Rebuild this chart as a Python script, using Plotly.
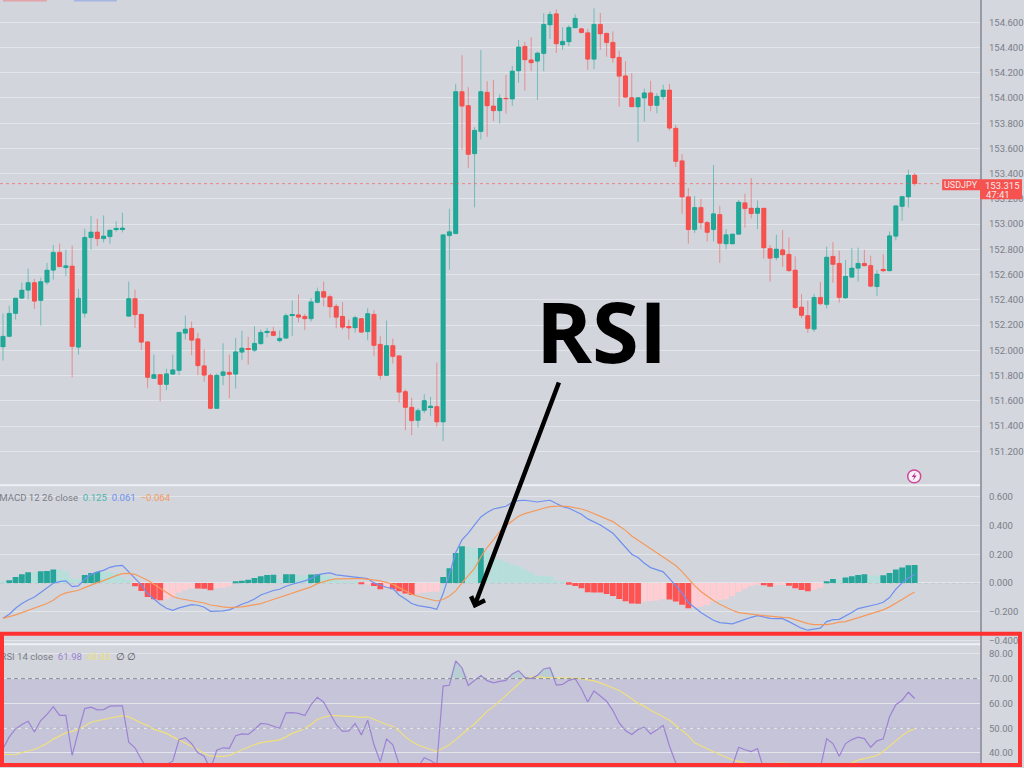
import plotly.graph_objects as go

# Candles
opens = [
    152.017, 152.099, 152.282, 152.403, 152.467, 152.528, 152.385, 152.530, 152.626, 152.769,
    152.647, 152.661, 152.014, 152.284, 152.885, 152.931, 152.877, 152.893, 152.949, 152.954,
    152.260, 152.401, 152.276, 152.057, 151.766, 151.797, 151.718, 151.800, 151.829, 152.125,
    152.165, 152.081, 151.867, 151.792, 151.528, 151.790, 151.816, 151.800, 151.975, 152.004,
    151.990, 152.041, 152.131, 152.139, 152.065, 152.086, 152.266, 152.272, 152.260, 152.240,
    152.369, 152.457, 152.417, 152.340, 152.260, 152.176, 152.168, 152.242, 152.137, 152.276,
    152.038, 151.790, 152.028, 151.946, 151.663, 151.538, 151.432, 151.512, 151.538, 151.543,
    151.419, 152.901, 152.917, 154.047, 153.936, 153.552, 153.729, 154.042, 153.933, 153.894,
    153.995, 153.987, 154.211, 154.407, 154.299, 154.288, 154.349, 154.576, 154.666, 154.418,
    154.442, 154.553, 154.547, 154.515, 154.304, 154.582, 154.511, 154.439, 154.320, 154.172,
    153.999, 153.925, 153.995, 154.037, 153.936, 154.005, 154.060, 153.756, 153.497, 153.211,
    152.949, 153.126, 153.007, 152.949, 153.070, 152.835, 152.835, 152.912, 153.163, 153.121,
    153.078, 153.121, 152.800, 152.726, 152.790, 152.753, 152.629, 152.335, 152.266, 152.157,
    152.411, 152.353, 152.737, 152.681, 152.406, 152.570, 152.642, 152.681, 152.665, 152.496,
    152.634, 152.621, 152.896, 153.134, 153.208, 153.383,
]
highs = [
    152.282, 152.345, 152.406, 152.528, 152.639, 152.557, 152.568, 152.684, 152.827, 152.838,
    152.790, 152.822, 152.478, 152.957, 153.058, 153.036, 153.062, 152.948, 153.015, 153.084,
    152.536, 152.472, 152.276, 152.059, 151.956, 151.797, 151.843, 151.954, 152.133, 152.266,
    152.218, 152.129, 151.998, 151.805, 151.805, 152.046, 151.956, 152.089, 152.144, 152.097,
    152.181, 152.155, 152.168, 152.176, 152.147, 152.282, 152.385, 152.433, 152.279, 152.406,
    152.488, 152.536, 152.433, 152.359, 152.375, 152.234, 152.266, 152.242, 152.324, 152.308,
    152.102, 152.226, 152.083, 151.946, 151.678, 151.612, 151.528, 151.641, 151.620, 151.893,
    152.909, 153.116, 154.108, 154.336, 154.082, 153.764, 154.378, 154.129, 154.140, 154.026,
    154.179, 154.251, 154.457, 154.442, 154.479, 154.365, 154.669, 154.685, 154.701, 154.558,
    154.574, 154.661, 154.553, 154.545, 154.709, 154.672, 154.511, 154.526, 154.372, 154.288,
    154.193, 153.999, 154.071, 154.132, 154.034, 154.100, 154.108, 153.782, 153.550, 153.280,
    153.216, 153.195, 153.015, 153.463, 153.139, 152.954, 152.915, 153.185, 153.235, 153.359,
    153.181, 153.121, 152.827, 152.909, 152.946, 152.888, 152.737, 152.438, 152.385, 152.438,
    152.534, 152.814, 152.851, 152.782, 152.708, 152.803, 152.806, 152.788, 152.742, 152.629,
    152.753, 152.935, 153.139, 153.213, 153.425, 153.399,
]
lows = [
    151.909, 152.099, 152.234, 152.401, 152.393, 152.319, 152.187, 152.512, 152.552, 152.655,
    152.578, 151.776, 151.956, 152.250, 152.790, 152.819, 152.848, 152.838, 152.933, 152.927,
    152.260, 152.168, 151.990, 151.689, 151.766, 151.583, 151.673, 151.797, 151.792, 152.075,
    151.951, 151.792, 151.740, 151.520, 151.528, 151.713, 151.609, 151.686, 151.914, 151.875,
    151.975, 152.036, 152.094, 152.107, 152.054, 152.086, 152.105, 152.213, 152.152, 152.218,
    152.369, 152.340, 152.250, 152.165, 152.155, 152.075, 152.131, 152.133, 152.070, 151.943,
    151.758, 151.790, 151.885, 151.575, 151.355, 151.316, 151.377, 151.490, 151.466, 151.382,
    151.268, 152.631, 152.917, 153.584, 153.439, 153.126, 153.666, 153.687, 153.812, 153.793,
    153.872, 153.933, 154.116, 154.055, 154.209, 153.981, 154.209, 154.465, 154.354, 154.378,
    154.407, 154.553, 154.515, 154.219, 154.225, 154.378, 154.325, 154.277, 153.928, 154.002,
    153.925, 153.648, 153.809, 153.891, 153.875, 153.981, 153.737, 153.447, 153.076, 152.838,
    152.923, 152.951, 152.856, 152.856, 152.684, 152.792, 152.835, 152.912, 152.965, 153.039,
    152.954, 152.719, 152.536, 152.705, 152.653, 152.613, 152.319, 152.245, 152.129, 152.137,
    152.348, 152.322, 152.526, 152.369, 152.399, 152.570, 152.536, 152.661, 152.491, 152.422,
    152.613, 152.621, 152.864, 153.020, 153.126, 153.298,
]
closes = [
    152.102, 152.284, 152.406, 152.470, 152.528, 152.380, 152.536, 152.629, 152.769, 152.655,
    152.663, 152.020, 152.406, 152.888, 152.931, 152.877, 152.899, 152.946, 152.959, 152.962,
    152.401, 152.272, 152.054, 151.774, 151.797, 151.718, 151.803, 151.835, 152.133, 152.160,
    152.070, 151.867, 151.792, 151.528, 151.792, 151.819, 151.797, 151.978, 152.009, 151.996,
    152.046, 152.133, 152.141, 152.107, 152.086, 152.266, 152.274, 152.252, 152.240, 152.375,
    152.457, 152.411, 152.335, 152.252, 152.173, 152.168, 152.250, 152.133, 152.282, 152.028,
    151.790, 152.028, 151.940, 151.657, 151.535, 151.430, 151.512, 151.591, 151.546, 151.419,
    152.909, 152.933, 154.047, 153.931, 153.547, 153.740, 154.047, 153.933, 153.894, 153.995,
    153.989, 154.211, 154.402, 154.299, 154.275, 154.354, 154.582, 154.661, 154.426, 154.447,
    154.558, 154.630, 154.515, 154.304, 154.582, 154.505, 154.436, 154.314, 154.169, 154.002,
    153.925, 153.999, 154.037, 153.936, 154.010, 154.060, 153.756, 153.491, 153.208, 152.949,
    153.126, 153.004, 152.927, 153.076, 152.840, 152.909, 152.915, 153.169, 153.116, 153.076,
    153.121, 152.804, 152.721, 152.796, 152.748, 152.623, 152.329, 152.266, 152.163, 152.411,
    152.359, 152.732, 152.673, 152.409, 152.578, 152.645, 152.681, 152.661, 152.499, 152.597,
    152.621, 152.901, 153.139, 153.213, 153.383, 153.315,
]

# MACD pane
macd_hist = [
    .005, .019, .042, .060, .074, .074, .081, .084, .093, .093,
    .079, .033, .026, .056, .070, .077, .077, .077, .065, .037,
    .019, -.023, -.056, -.098, -.114, -.121, -.114, -.098, -.067, -.049,
    -.037, -.039, -.040, -.051, -.037, -.033, -.023, .007, .016, .023,
    .035, .047, .056, .057, .026, .060, .061, .056, .051, .058,
    .060, .060, .049, .033, .009, .007, .005, -.007, -.005, -.021,
    -.044, -.028, -.044, -.058, -.074, -.084, -.074, -.067, -.063, -.060,
    .042, .102, .209, .256, .251, .242, .244, .223, .186, .163,
    .144, .130, .116, .093, .072, .051, .049, .047, .016, .005,
    -.012, -.021, -.037, -.065, -.066, -.067, -.077, -.091, -.112, -.128,
    -.144, -.145, -.130, -.127, -.123, -.112, -.116, -.130, -.153, -.177,
    -.172, -.167, -.153, -.130, -.119, -.114, -.091, -.063, -.040, -.021,
    -.012, -.016, -.026, -.016, -.014, -.019, -.037, -.049, -.058, -.049,
    -.033, .009, .028, .023, .037, .047, .056, .060, .051, .051,
    .053, .070, .093, .107, .123, .125,
]
macd_line = [
    -.247, -.219, -.177, -.144, -.119, -.098, -.067, -.033, -.002, .009,
    .014, -.026, -.021, .026, .060, .077, .088, .109, .119, .123,
    .077, .033, -.014, -.074, -.114, -.149, -.177, -.191, -.174, -.160,
    -.151, -.156, -.170, -.198, -.198, -.195, -.188, -.167, -.149, -.133,
    -.112, -.084, -.067, -.053, -.044, -.023, -.009, .000, .014, .030,
    .056, .065, .070, .056, .051, .044, .040, .035, .030, .000,
    -.016, -.030, -.040, -.084, -.112, -.144, -.158, -.163, -.172, -.184,
    -.074, .060, .212, .300, .347, .405, .461, .491, .516, .526,
    .535, .563, .575, .577, .572, .565, .572, .577, .554, .533,
    .521, .500, .479, .447, .428, .405, .377, .347, .298, .247,
    .200, .177, .137, .107, .091, .077, .030, -.021, -.070, -.137,
    -.172, -.207, -.235, -.261, -.277, -.281, -.286, -.270, -.254, -.240,
    -.228, -.237, -.247, -.249, -.249, -.270, -.293, -.316, -.330, -.323,
    -.316, -.270, -.256, -.254, -.233, -.207, -.179, -.170, -.163, -.149,
    -.135, -.102, -.044, .000, .035, .061,
]
macd_signal = [
    -.247, -.237, -.223, -.207, -.191, -.174, -.158, -.144, -.121, -.088,
    -.070, -.060, -.051, -.033, -.014, .002, .016, .035, .051, .065,
    .067, .060, .042, .019, -.009, -.037, -.067, -.095, -.109, -.116,
    -.123, -.130, -.140, -.154, -.163, -.167, -.172, -.172, -.167, -.160,
    -.154, -.144, -.130, -.116, -.102, -.088, -.072, -.058, -.042, -.028,
    -.005, .009, .021, .028, .030, .030, .030, .030, .028, .021,
    .014, .005, -.009, -.033, -.056, -.079, -.093, -.107, -.116, -.126,
    -.116, -.091, -.056, .000, .051, .102, .181, .247, .300, .358,
    .400, .433, .465, .484, .498, .509, .521, .533, .535, .537,
    .533, .526, .516, .502, .484, .465, .447, .428, .398, .367,
    .328, .298, .265, .235, .205, .181, .149, .121, .079, .030,
    -.019, -.060, -.093, -.123, -.149, -.172, -.191, -.207, -.214, -.221,
    -.223, -.228, -.233, -.237, -.240, -.242, -.256, -.270, -.284, -.291,
    -.293, -.291, -.284, -.274, -.270, -.256, -.242, -.230, -.216, -.200,
    -.188, -.167, -.144, -.116, -.088, -.064,
]

# RSI pane (values under the bottom edge are estimates)
rsi_line = [
    41.7, 46.5, 49.7, 51.5, 52.8, 48.5, 53.1, 55.6, 58.7, 55.2,
    55.2, 39.0, 48.8, 57.9, 58.5, 57.4, 57.5, 58.9, 59.0, 59.0,
    44.4, 42.1, 37.4, 33.6, 33.0, 34.0, 35.4, 36.7, 45.4, 46.2,
    43.8, 40.1, 38.7, 33.4, 41.1, 42.1, 41.9, 47.0, 47.7, 47.5,
    49.5, 51.9, 51.7, 50.9, 50.0, 56.2, 56.3, 56.0, 55.1, 59.5,
    62.5, 60.5, 55.9, 51.5, 48.7, 48.9, 51.9, 47.3, 53.2, 43.4,
    36.4, 45.6, 43.3, 35.4, 32.7, 32.0, 34.4, 38.1, 37.0, 35.4,
    67.0, 67.3, 77.1, 74.4, 67.2, 69.3, 71.3, 69.2, 68.3, 68.9,
    69.3, 71.9, 73.2, 70.5, 70.0, 71.3, 73.9, 74.4, 67.4, 67.7,
    69.3, 70.0, 65.8, 60.6, 65.0, 63.0, 60.9, 57.1, 52.1, 49.1,
    47.5, 49.5, 50.4, 47.7, 49.5, 51.1, 42.8, 36.0, 33.0, 31.0,
    30.0, 31.0, 32.0, 31.0, 32.0, 33.0, 34.7, 42.3, 41.3, 40.6,
    41.8, 33.4, 32.0, 33.0, 33.0, 32.0, 31.0, 30.0, 29.0, 30.0,
    34.0, 45.7, 43.8, 38.7, 43.8, 45.4, 46.4, 45.8, 42.3, 44.9,
    45.7, 54.6, 59.5, 61.3, 64.5, 61.98,
]
rsi_ma = [
    39.5, 39.4, 39.3, 40.2, 40.9, 41.4, 42.6, 43.8, 45.6, 47.0,
    48.1, 48.7, 49.5, 50.9, 52.4, 53.0, 53.5, 54.0, 54.6, 55.1,
    54.6, 53.2, 52.1, 51.1, 49.5, 48.8, 47.9, 46.5, 45.2, 44.1,
    42.8, 41.4, 39.8, 38.7, 38.6, 38.6, 39.0, 40.1, 41.1, 42.5,
    43.4, 44.2, 44.6, 44.9, 45.3, 46.5, 47.9, 48.8, 49.9, 51.5,
    53.5, 54.4, 55.1, 55.1, 54.8, 54.8, 54.7, 54.4, 54.6, 53.5,
    52.3, 51.5, 50.7, 48.9, 46.5, 44.6, 43.2, 42.2, 41.4, 40.6,
    41.9, 43.3, 45.4, 47.7, 49.7, 51.7, 54.4, 56.8, 58.7, 61.0,
    63.3, 65.6, 68.1, 70.1, 70.7, 70.8, 70.5, 70.4, 70.4, 70.3,
    70.1, 70.1, 70.0, 69.5, 69.1, 68.3, 67.3, 66.5, 65.2, 63.6,
    61.7, 60.1, 58.9, 57.2, 55.9, 54.6, 53.2, 51.1, 49.1, 47.0,
    44.1, 42.8, 41.5, 40.5, 39.4, 38.2, 37.2, 36.6, 35.9, 35.2,
    35.0, 35.0, 35.2, 35.9, 35.9, 35.8, 35.5, 34.7, 34.0, 33.6,
    33.5, 33.6, 34.0, 34.4, 35.0, 36.0, 37.1, 37.7, 38.2, 39.0,
    40.6, 42.8, 45.0, 47.0, 48.8, 49.83,
]

price_ticks = [151.2, 151.4, 151.6, 151.8, 152.0, 152.2, 152.4, 152.6, 152.8,
               153.0, 153.2, 153.4, 153.6, 153.8, 154.0, 154.2, 154.4, 154.6]
macd_ticks = [-0.4, -0.2, 0.0, 0.2, 0.4, 0.6]
rsi_ticks = [40, 50, 60, 70, 80]

bars = list(range(len(closes)))
assert all(len(s) == 146 for s in [opens, highs, lows, closes, macd_hist, macd_line,
                                   macd_signal, rsi_line, rsi_ma])

BG = "#d2d5dc"
GRID = "#e2e5ea"
TICK = "#7b7e88"
GREEN = "#20a898"
RED = "#f6524f"
FONT = "Roboto"


# picture pixels to paper coordinates
def px(x):
    return x / 1024


def py(y):
    return 1 - y / 768


# the prices above were read at 126 px per yen, the grid measures 126.35
def regrid(prices):
    return [p + 0.0015 + (154.775 - p) * 0.00325 for p in prices]


o, h, l, c = regrid(opens), regrid(highs), regrid(lows), regrid(closes)

# TradingView shading: darker when the bar grew against the one before
hist_colors = []
for n, v in enumerate(macd_hist):
    prev = macd_hist[n - 1] if n else v
    if v >= 0:
        hist_colors.append("#26a69a" if v > prev else "#b4dfda")
    else:
        hist_colors.append("#ff5252" if v < prev else "#ffcdd2")

fig = go.Figure()

# wicks and thin bodies come from the candlestick, a bar on top gives the full body width
fig.add_trace(go.Candlestick(
    x=bars, open=o, high=h, low=l, close=c,
    increasing=dict(line=dict(color="rgba(32,168,152,0.55)", width=1), fillcolor=GREEN),
    decreasing=dict(line=dict(color="rgba(246,82,79,0.55)", width=1), fillcolor=RED),
    hoverinfo="skip", xaxis="x", yaxis="y",
))
fig.add_trace(go.Bar(
    x=bars, base=[min(a, b) for a, b in zip(o, c)], y=[abs(a - b) for a, b in zip(o, c)],
    marker=dict(color=[GREEN if b > a else RED for a, b in zip(o, c)], line_width=0),
    width=0.8, hoverinfo="skip", xaxis="x", yaxis="y",
))

fig.add_trace(go.Bar(x=bars, y=macd_hist, marker=dict(color=hist_colors, line_width=0),
                     width=0.92, hoverinfo="skip", xaxis="x2", yaxis="y2"))
fig.add_trace(go.Scatter(x=bars, y=macd_line, mode="lines", line=dict(color="#6f90ee", width=1.2),
                         hoverinfo="skip", xaxis="x2", yaxis="y2"))
fig.add_trace(go.Scatter(x=bars, y=macd_signal, mode="lines", line=dict(color="#f59a5c", width=1.2),
                         hoverinfo="skip", xaxis="x2", yaxis="y2"))

# green tint where RSI is over 70
fig.add_trace(go.Scatter(x=bars, y=[70] * len(bars), mode="lines", line_width=0,
                         hoverinfo="skip", xaxis="x3", yaxis="y3"))
fig.add_trace(go.Scatter(x=bars, y=[max(v, 70) for v in rsi_line], mode="lines", line_width=0,
                         fill="tonexty", fillcolor="rgba(38,166,154,0.14)",
                         hoverinfo="skip", xaxis="x3", yaxis="y3"))
fig.add_trace(go.Scatter(x=bars, y=rsi_ma, mode="lines", line=dict(color="#efe07c", width=1.2),
                         hoverinfo="skip", xaxis="x3", yaxis="y3"))
fig.add_trace(go.Scatter(x=bars, y=rsi_line, mode="lines", line=dict(color="#9c83d4", width=1.2),
                         hoverinfo="skip", xaxis="x3", yaxis="y3"))

# pane legends as text traces so the red frame stays on top of them
fig.add_trace(go.Scatter(
    x=[-0.6], y=[0.59], mode="text", textposition="middle right",
    text=['MACD 12 26 close\u00a0 <span style="color:#4db6ac">0.125</span>\u00a0 '
          '<span style="color:#6f90ee">0.061</span>\u00a0 '
          '<span style="color:#f59a5c">\u22120.064</span>'],
    textfont=dict(family=FONT, size=9.6, color=TICK), hoverinfo="skip", xaxis="x2", yaxis="y2",
))
fig.add_trace(go.Scatter(
    x=[-0.4], y=[78.3], mode="text", textposition="middle right",
    text=['RSI 14 close\u00a0 <span style="color:#9c83d4">61.98</span>\u00a0 '
          '<span style="color:#efe07c">49.83</span>\u00a0 '
          '<span style="color:#55575f">\u2205 \u2205</span>'],
    textfont=dict(family=FONT, size=9.6, color=TICK), hoverinfo="skip", xaxis="x3", yaxis="y3",
))

y_common = dict(side="right", showgrid=True, gridcolor=GRID, gridwidth=1, zeroline=False,
                showline=True, linecolor="#989ba5", linewidth=2, ticks="outside", ticklen=5,
                tickcolor="rgba(0,0,0,0)", tickfont=dict(family=FONT, size=9.5, color=TICK),
                fixedrange=True)
x_common = dict(range=[-0.476, 155.4], domain=[0, px(982)], visible=False, fixedrange=True)

shapes = [
    # clipped legend stubs on the top edge
    dict(type="rect", xref="paper", yref="paper", x0=px(3), x1=px(47), y0=py(0), y1=py(1.5),
         fillcolor="rgba(240,130,135,0.6)", line_width=0),
    dict(type="rect", xref="paper", yref="paper", x0=px(74), x1=px(117), y0=py(0), y1=py(1.5),
         fillcolor="rgba(120,150,235,0.5)", line_width=0),
    # RSI band and levels
    dict(type="rect", xref="x3 domain", yref="y3", x0=0, x1=1, y0=30, y1=70,
         fillcolor="rgba(126,87,194,0.13)", line_width=0, layer="below"),
    dict(type="line", xref="x3 domain", yref="y3", x0=0, x1=1, y0=70, y1=70,
         line=dict(color="#888b95", width=1, dash="4px,3px")),
    dict(type="line", xref="x3 domain", yref="y3", x0=0, x1=1, y0=50, y1=50,
         line=dict(color="#aeaec0", width=1, dash="4px,3px")),
    dict(type="line", xref="x2 domain", yref="y2", x0=0, x1=1, y0=0, y1=0,
         line=dict(color="#b4b7c0", width=1, dash="4px,3px"), layer="below"),
    # pane separators
    dict(type="line", xref="paper", yref="paper", x0=0, x1=px(982), y0=py(486), y1=py(486),
         line=dict(color="#eef0f3", width=2)),
    dict(type="line", xref="paper", yref="paper", x0=0, x1=px(982), y0=py(645), y1=py(645),
         line=dict(color="#eef0f3", width=2)),
    # last price line and labels
    dict(type="line", xref="x domain", yref="y", x0=0, x1=1, y0=c[-1], y1=c[-1],
         line=dict(color="rgba(246,82,79,0.6)", width=1, dash="dot")),
    dict(type="rect", xref="paper", yref="paper", x0=px(944), x1=px(982), y0=py(179.5), y1=py(190.5),
         fillcolor=RED, line_width=0),
    dict(type="rect", xref="paper", yref="paper", x0=px(982), x1=px(1024), y0=py(179.5), y1=py(199.5),
         fillcolor=RED, line_width=0),
    # lightning badge
    dict(type="circle", xref="paper", yref="paper", x0=px(909.5), x1=px(922.5), y0=py(470.5), y1=py(483.5),
         fillcolor="#f4f2f6", line=dict(color="#d0489a", width=1.5)),
    dict(type="path", xref="paper", yref="paper",
         path=f"M {px(917.5)} {py(472.5)} L {px(913.5)} {py(477.5)} L {px(916)} {py(477.5)} "
              f"L {px(914.5)} {py(481.5)} L {px(918.5)} {py(476)} L {px(916)} {py(476)} Z",
         fillcolor="#c02f8f", line_width=0),
    # callout arrow
    dict(type="path", xref="paper", yref="paper",
         path=f"M {px(560)} {py(383)} L {px(476)} {py(605)} "
              f"M {px(472)} {py(597)} L {px(476)} {py(606)} L {px(486)} {py(601)}",
         line=dict(color="#000000", width=4.5)),
    # red frame round the RSI pane
    dict(type="rect", xref="paper", yref="paper", x0=px(2), x1=px(1022), y0=py(634.5), y1=py(766),
         line=dict(color="#ff3131", width=4)),
]


def note(text, x, y, size, color="#f5e9e9", family=FONT):
    return dict(text=text, xref="paper", yref="paper", x=px(x), y=py(y), showarrow=False,
                xanchor="center", yanchor="middle",
                font=dict(family=family, size=size, color=color))


annotations = [
    note("<b>RSI</b>", 603, 330, 85, color="#000000", family="Open Sans"),
    note("USDJPY", 963, 185.5, 9),
    note("153.315", 1004, 185.5, 9.5),
    note("47:41", 1000, 195, 9.5),
]

fig.update_layout(
    width=1024, height=768, margin=dict(l=0, r=0, t=0, b=0),
    paper_bgcolor="#d4d7de", plot_bgcolor=BG, showlegend=False, barmode="overlay",
    xaxis=dict(**x_common, anchor="y", rangeslider=dict(visible=False)),
    xaxis2=dict(**x_common, anchor="y2"),
    xaxis3=dict(**x_common, anchor="y3"),
    yaxis=dict(**y_common, domain=[py(486), 1], range=[150.93, 154.7765], anchor="x",
               tickvals=price_ticks, tickformat=".3f"),
    yaxis2=dict(**y_common, domain=[py(645), py(486)], range=[-0.4275, 0.681], anchor="x2",
                tickvals=macd_ticks, tickformat=".3f"),
    yaxis3=dict(**y_common, domain=[0, py(645)], range=[34.35, 83.9], anchor="x3",
                tickvals=rsi_ticks, tickformat=".2f"),
    shapes=shapes, annotations=annotations,
)

fig.write_html("out.html", config=dict(displayModeBar=False),
               post_script="document.body.style.margin='0';document.body.style.overflow='hidden';")
